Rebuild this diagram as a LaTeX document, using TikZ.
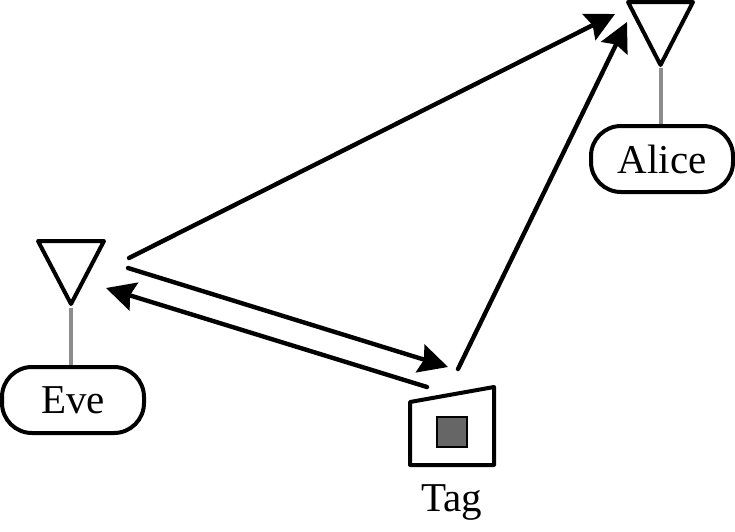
\documentclass[tikz,border=0pt]{standalone}
\usepackage{fontspec}
\setmainfont{Liberation Serif}
\usetikzlibrary{arrows.meta}
\tikzset{
  label box/.style={draw=black,line width=4pt,rounded corners=30pt,fill=white,inner sep=0pt,font=\fontsize{41}{45}\selectfont},
  antenna/.style={draw=black,line width=4pt,line join=round,fill=white},
  stem/.style={draw=black!45,line width=4pt},
  link/.style={draw=black,line width=4.4pt,line cap=round,-{Stealth[length=29pt,width=29pt,inset=4pt]}},
  tagbody/.style={draw=black,line width=4pt,line join=round,fill=white},
  chip/.style={draw=black,line width=1.6pt,fill=black!60,minimum size=30pt,inner sep=0pt},
  caption text/.style={inner sep=0pt,font=\fontsize{41}{45}\selectfont}
}
\begin{document}
\begin{tikzpicture}[x=1pt,y=-1pt]
\useasboundingbox (0,0) rectangle (735,531);
% antennas
\coordinate (aliceL) at (628,2);
\coordinate (aliceR) at (693,2);
\coordinate (aliceB) at (660.5,65);
\coordinate (eveL) at (38,241);
\coordinate (eveR) at (104,241);
\coordinate (eveB) at (71,304);
\draw[antenna] (aliceL) -- (aliceR) -- (aliceB) -- cycle;
\draw[antenna] (eveL) -- (eveR) -- (eveB) -- cycle;
% label boxes
\node[label box,minimum width=142pt,minimum height=66pt] (alice) at (662,159) {Alice};
\node[label box,minimum width=142pt,minimum height=66pt] (eve) at (73,400) {Eve};
\coordinate (aliceS) at (660.5,68);
\coordinate (eveS) at (71,308);
\draw[stem] (aliceS) -- (aliceS |- alice.north);
\draw[stem] (eveS) -- (eveS |- eve.north);
% tag
\coordinate (tagA) at (410,402);
\coordinate (tagB) at (494,387);
\coordinate (tagC) at (494,465);
\coordinate (tagD) at (410,465);
\draw[tagbody] (tagA) -- (tagB) -- (tagC) -- (tagD) -- cycle;
\node[chip] (chip) at (452,432) {};
\node[caption text] (tag) at (452,502) {Tag};
% links
\coordinate (e1) at (129,258);
\coordinate (a1) at (615,14);
\coordinate (t1) at (458,369);
\coordinate (a2) at (627,22);
\coordinate (e2) at (128,268);
\coordinate (t2) at (448,367);
\coordinate (t3) at (427,387);
\coordinate (e3) at (106,288);
\draw[link] (e1) -- (a1);
\draw[link] (t1) -- (a2);
\draw[link] (e2) -- (t2);
\draw[link] (t3) -- (e3);
\end{tikzpicture}
\end{document}
